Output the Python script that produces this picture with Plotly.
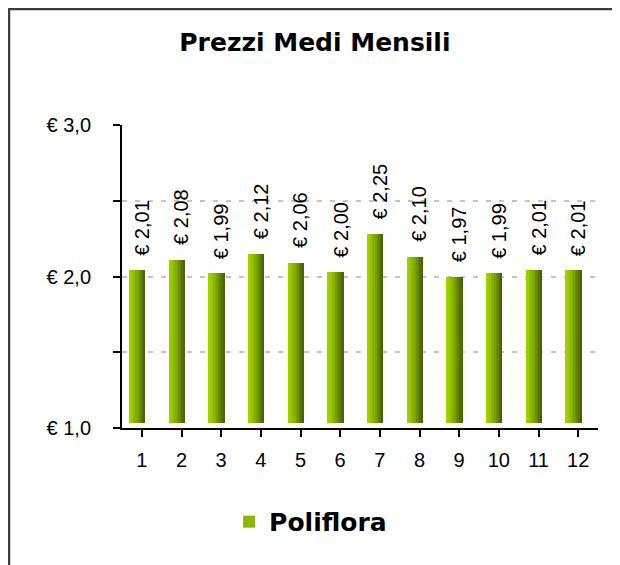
import plotly.graph_objects as go

# dati
mesi = [1, 2, 3, 4, 5, 6, 7, 8, 9, 10, 11, 12]
prezzi = [2.01, 2.08, 1.99, 2.12, 2.06, 2.00, 2.25, 2.10, 1.97, 1.99, 2.01, 2.01]
serie = "Poliflora"
titolo = "Prezzi Medi Mensili"

# sfumatura della barra: da verde chiaro (sinistra) a verde scuro (destra)
sfumatura = ["#a3d100", "#9ccb00", "#94c200", "#8bb800", "#82ad00",
             "#78a000", "#6d9200", "#618300", "#557300", "#4a6400"]
larg_barra = 0.40
inizio = -0.31
rialzo_3d = 0.03  # effetto profondità: barre leggermente sollevate

fig = go.Figure()
n = len(sfumatura)
for k, col in enumerate(sfumatura):
    fig.add_trace(go.Bar(
        x=mesi, y=[p - 1 for p in prezzi], base=1 + rialzo_3d,
        width=larg_barra / n + 0.002,
        offset=inizio + k * larg_barra / n,
        marker=dict(color=col, line=dict(width=0)),
        name=serie, showlegend=(k == 3),
        hoverinfo="skip",
    ))

# etichette valore verticali
for m, p in zip(mesi, prezzi):
    fig.add_annotation(
        x=m, y=p, text="€ " + f"{p:.2f}".replace(".", ","),
        textangle=-90, showarrow=False, yanchor="bottom", yshift=17,
        font=dict(family="Liberation Sans", size=20, color="#000000"),
    )

# cornice esterna
fig.add_shape(type="rect", xref="paper", yref="paper",
              x0=-0.2374, x1=1.105, y0=-0.6, y1=1.3828,
              line=dict(color="#3c3c3c", width=2.5), layer="below")

griglia = dict(showgrid=True, gridcolor="#c4c4c4", griddash="5px,8px", gridwidth=1.5)

fig.update_layout(
    width=620, height=565,
    paper_bgcolor="white", plot_bgcolor="white",
    margin=dict(l=114, r=30, t=117, b=145),
    barmode="overlay", bargap=0,
    title=dict(text=titolo, x=0.495, xanchor="center", y=0.939, yanchor="middle",
               font=dict(family="DejaVu Sans", size=25, color="#000000", weight="bold")),
    showlegend=True,
    legend=dict(orientation="h", x=0.225, xanchor="left", y=-0.31, yanchor="middle",
                font=dict(family="DejaVu Sans", size=25, color="#000000", weight="bold"),
                itemwidth=30),
    xaxis=dict(
        tickmode="array", tickvals=mesi, ticktext=[str(m) for m in mesi],
        range=[0.5, 12.5], tickson="boundaries",
        ticks="outside", ticklen=7, tickwidth=2, tickcolor="#000000",
        showline=True, linecolor="#000000", linewidth=2,
        showgrid=False, zeroline=False, ticklabelstandoff=6,
        tickfont=dict(family="Liberation Sans", size=20, color="#000000"),
    ),
    yaxis=dict(
        range=[1, 3], tickvals=[1, 2, 3], ticktext=["€ 1,0", "€ 2,0", "€ 3,0"],
        ticks="outside", ticklen=7, tickwidth=2, tickcolor="#000000",
        showline=True, linecolor="#000000", linewidth=2,
        zeroline=False, ticklabelstandoff=18,
        minor=dict(tickvals=[1.5, 2.5], ticks="outside", ticklen=7, tickwidth=2,
                   tickcolor="#000000", **griglia),
        tickfont=dict(family="Liberation Sans", size=20, color="#000000"),
        **griglia,
    ),
)

fig.write_html("out.html")
